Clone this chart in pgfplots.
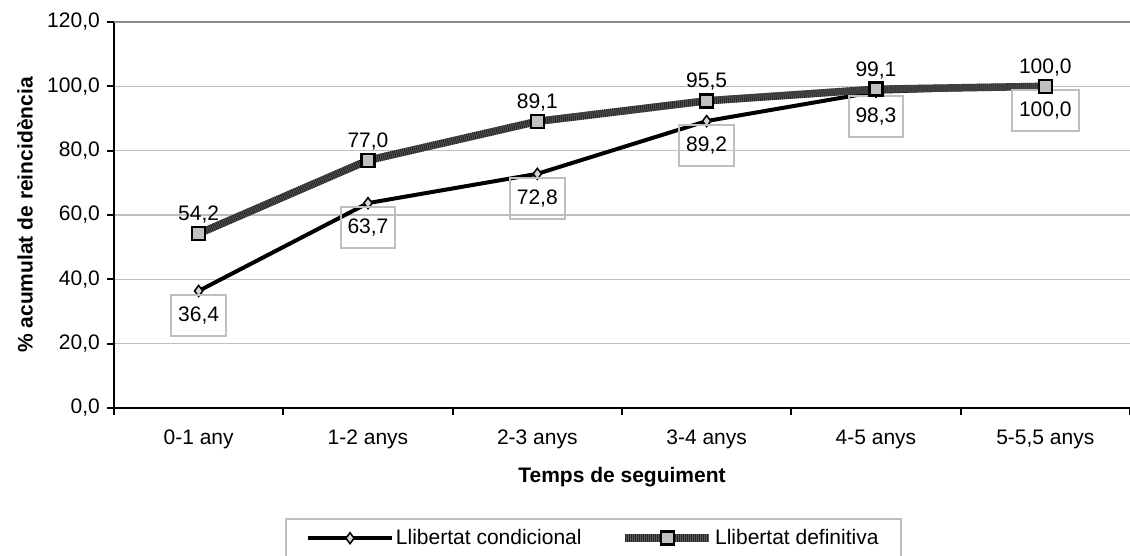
\documentclass[border=0pt]{standalone}
\usepackage{fontspec}
\setmainfont{Liberation Sans}
\usepackage{pgfplots}
\pgfplotsset{compat=1.18}
\definecolor{lgray}{HTML}{BFBFBF}
\definecolor{tgray}{HTML}{8C8C8C}
\definecolor{dgray}{HTML}{262626}
\definecolor{mgray}{HTML}{5A5A5A}
\definecolor{sqfill}{HTML}{C0C0C0}
\definecolor{dmfill}{HTML}{D4D4D4}
\pgfplotsset{
  deflegend/.style={legend image code/.code={%
     \draw[solid,mgray,line width=7.5pt] (0pt,0pt)--(84pt,0pt);
     \draw[dgray,line width=7.5pt,dash pattern=on 1pt off 1pt] (0pt,0pt)--(84pt,0pt);
     \draw[solid,black,line width=2.5pt,fill=sqfill] (35.5pt,-6.5pt) rectangle (48.5pt,6.5pt);}},
  condlegend/.style={legend image code/.code={%
     \draw[mark repeat=2,mark phase=2,##1] plot coordinates {(0pt,0pt)(42pt,0pt)(84pt,0pt)};}},
}
\begin{document}
\fontsize{21}{25}\selectfont
\begin{tikzpicture}
\begin{axis}[
  scale only axis, width=1016pt, height=386pt,
  xmin=-0.5, xmax=5.5, ymin=0, ymax=120,
  axis x line*=bottom, axis y line*=left,
  axis line style={line width=2pt, black},
  xtick={-0.5,0.5,1.5,2.5,3.5,4.5,5.5},
  x tick label as interval,
  xticklabels={0-1 any,1-2 anys,2-3 anys,3-4 anys,4-5 anys,{5-5,5 anys}},
  xticklabel style={yshift=-8pt},
  ytick={0,20,...,100},
  extra y ticks={120},
  extra y tick style={grid style={tgray, line width=1.5pt}},
  ymajorgrids, grid style={lgray, line width=1.3pt},
  tick align=outside, major tick length=7pt,
  tick style={black, line width=2pt},
  xlabel={\bfseries Temps de seguiment},
  ylabel={\bfseries \% acumulat de reincidència},
  xlabel style={at={(axis description cs:0.5,0)}, anchor=center, yshift=-69pt},
  ylabel style={at={(axis description cs:0,0.5)}, anchor=center, yshift=89pt},
  legend columns=2,
  legend style={at={(axis description cs:0.1683,-0.285)}, anchor=north west,
    draw=lgray, line width=2pt, inner xsep=20pt, inner ysep=8pt,
    /tikz/every even column/.append style={column sep=38pt}},
  /pgf/number format/.cd, fixed, fixed zerofill, precision=1, use comma, assume math mode=true,
  /pgfplots/.cd,
]
\coordinate (O) at (rel axis cs:0,0);
\addplot[black, line width=4pt, mark=diamond*, mark size=5.5pt,
  mark options={draw=black, fill=dmfill, line width=1.5pt},
  condlegend,
  nodes near coords,
  every node near coord/.append style={anchor=north, yshift=-3pt, draw=lgray, line width=2pt,
    minimum height=41pt, inner xsep=7pt, inner ysep=0pt, text=black}]
  coordinates {(0,36.4) (1,63.7) (2,72.8) (3,89.2) (4,98.3) (5,100.0)};
\addlegendentry{Llibertat condicional}
\addplot[mgray, line width=7.5pt, forget plot]
  coordinates {(0,54.2) (1,77.0) (2,89.1) (3,95.5) (4,99.1) (5,100.0)};
\addplot[dgray, line width=7.5pt, dash pattern=on 1pt off 1pt,
  mark=square*, mark size=6.5pt,
  mark options={solid, draw=black, fill=sqfill, line width=2.5pt},
  deflegend,
  nodes near coords,
  every node near coord/.append style={anchor=base, yshift=13pt, inner sep=0pt, text=black}]
  coordinates {(0,54.2) (1,77.0) (2,89.1) (3,95.5) (4,99.1) (5,100.0)};
\addlegendentry{Llibertat definitiva}
\end{axis}
\pgfresetboundingbox
\path[use as bounding box] ([shift={(-114pt,-148pt)}]O) rectangle ([shift={(1016pt,408pt)}]O);
\end{tikzpicture}
\end{document}
